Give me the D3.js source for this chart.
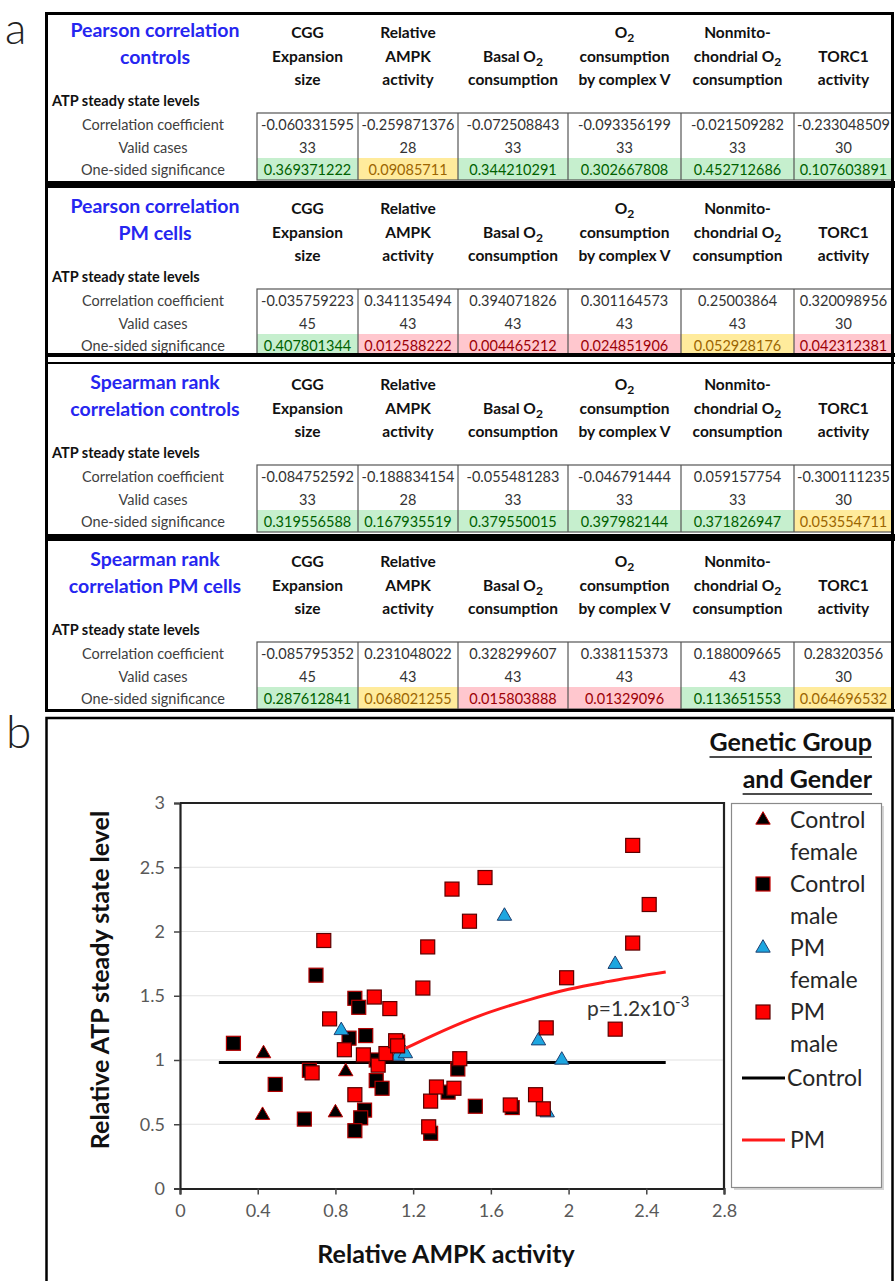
<!DOCTYPE html>
<html lang="en">
<head>
<meta charset="UTF-8">
<title>ATP correlations and AMPK scatter</title>
<script src="https://d3js.org/d3.v7.min.js"></script>
<style>
  body { margin: 0; background: #fff; }
  svg { display: block; font-family: Lato, "Open Sans", sans-serif; }
</style>
</head>
<body>
<script>
// ---------- table data (panel a) ----------
const tableTitles = [
  ["Pearson correlation", "controls"],
  ["Pearson correlation", "PM cells"],
  ["Spearman rank", "correlation controls"],
  ["Spearman rank", "correlation PM cells"]
];
// header lines; second value is the line slot (0..2) of the first line
const columnHeaders = [
  [["CGG", "Expansion", "size"], 0],
  [["Relative", "AMPK", "activity"], 0],
  [["Basal O_2", "consumption"], 1],
  [["O_2", "consumption", "by complex V"], 0],
  [["Nonmito-", "chondrial O_2", "consumption"], 0],
  [["TORC1", "activity"], 1]
];
const rowLabels = ["Correlation coefficient", "Valid cases", "One-sided significance"];

const coefPearsonControls = ["-0.060331595", "-0.259871376", "-0.072508843", "-0.093356199", "-0.021509282", "-0.233048509"];
const nPearsonControls = [33, 28, 33, 33, 33, 30];
const sigPearsonControls = ["0.369371222", "0.09085711", "0.344210291", "0.302667808", "0.452712686", "0.107603891"];

const coefPearsonPM = ["-0.035759223", "0.341135494", "0.394071826", "0.301164573", "0.25003864", "0.320098956"];
const nPearsonPM = [45, 43, 43, 43, 43, 30];
const sigPearsonPM = ["0.407801344", "0.012588222", "0.004465212", "0.024851906", "0.052928176", "0.042312381"];

const coefSpearmanControls = ["-0.084752592", "-0.188834154", "-0.055481283", "-0.046791444", "0.059157754", "-0.300111235"];
const nSpearmanControls = [33, 28, 33, 33, 33, 30];
const sigSpearmanControls = ["0.319556588", "0.167935519", "0.379550015", "0.397982144", "0.371826947", "0.053554711"];

const coefSpearmanPM = ["-0.085795352", "0.231048022", "0.328299607", "0.338115373", "0.188009665", "0.28320356"];
const nSpearmanPM = [45, 43, 43, 43, 43, 30];
const sigSpearmanPM = ["0.287612841", "0.068021255", "0.015803888", "0.01329096", "0.113651553", "0.064696532"];

// ---------- scatter data (panel b) ----------
const controlFemale = [[0.43, 1.05], [0.425, 0.57], [0.80, 0.59], [0.853, 0.91]];
const controlMale = [
  [0.275, 1.13], [0.49, 0.81], [0.64, 0.54], [0.70, 1.66], [0.666, 0.92],
  [0.90, 1.48], [0.92, 1.41], [0.87, 1.17], [0.956, 1.19], [0.95, 0.61],
  [0.93, 0.55], [0.90, 0.45], [1.01, 0.84], [1.04, 0.78], [1.01, 1.00],
  [1.38, 0.75], [1.43, 0.93], [1.52, 0.64], [1.71, 0.63], [1.29, 0.43],
  [1.12, 1.14]
];
const pmFemale = [
  [0.83, 1.23], [1.12, 1.03], [1.16, 1.05], [1.845, 1.15], [1.965, 1.0],
  [1.89, 0.59], [1.67, 2.12], [2.24, 1.745]
];
const pmMale = [
  [0.77, 1.32], [0.68, 0.90], [0.846, 1.08], [0.90, 0.73], [1.0, 1.49],
  [1.08, 1.40], [0.944, 1.04], [1.02, 0.96], [1.06, 1.05], [1.11, 1.15],
  [1.12, 1.11], [1.25, 1.56], [1.29, 0.68], [1.28, 0.48], [1.32, 0.79],
  [1.41, 0.78], [1.44, 1.01], [1.70, 0.65], [1.83, 0.73], [1.87, 0.62],
  [1.885, 1.25], [1.99, 1.64], [0.74, 1.93], [1.275, 1.88], [1.40, 2.33],
  [1.49, 2.08], [1.57, 2.42], [2.33, 2.67], [2.415, 2.21], [2.33, 1.91],
  [2.24, 1.24]
];
const controlFit = [[0.2, 0.98], [2.5, 0.98]];
const pmFit = [[1.16, 1.09], [1.3, 1.19], [1.5, 1.32], [1.8, 1.47], [2.0, 1.55], [2.2, 1.61], [2.5, 1.685]];
const xTicks = [0, 0.4, 0.8, 1.2, 1.6, 2, 2.4, 2.8];
const yTicks = [0, 0.5, 1, 1.5, 2, 2.5, 3];

const W = 896, H = 1281;
const svg = d3.select("body").append("svg").attr("width", W).attr("height", H);

// write text with "O_2" subscripts
function richText(sel, str, size) {
  const parts = str.split("_2");
  let shift = 0;
  parts.forEach((p, i) => {
    if (p) {
      const ts = sel.append("tspan").text(p);
      if (shift) { ts.attr("dy", -shift); shift = 0; }
    }
    if (i < parts.length - 1) {
      sel.append("tspan").attr("dy", 4).attr("font-size", size * 0.78).text("2");
      shift = 4;
    }
  });
}

// ---------- panel a ----------
const colEdges = [257, 358, 458, 568, 681, 794, 893];
const colCenter = i => (colEdges[i] + colEdges[i + 1]) / 2;
const tableTops = [12, 188, 364, 541];
const tableData = [
  [coefPearsonControls, nPearsonControls, sigPearsonControls],
  [coefPearsonPM, nPearsonPM, sigPearsonPM],
  [coefSpearmanControls, nSpearmanControls, sigSpearmanControls],
  [coefSpearmanPM, nSpearmanPM, sigSpearmanPM]
];
const sigStyle = p => p < 0.05 ? ["#FFC7CE", "#9C0006"] : p < 0.1 ? ["#FFEB9C", "#9C6500"] : ["#C6EFCE", "#006100"];

svg.append("text").attr("x", 5).attr("y", 44).attr("font-size", 44).attr("font-weight", 300)
  .attr("fill", "#222").text("a");

tableTops.forEach((top, t) => {
  const g = svg.append("g").attr("transform", `translate(0,${top})`);
  // title
  tableTitles[t].forEach((line, i) => {
    g.append("text").attr("x", 155).attr("y", 18 + i * 27).attr("dy", "0.35em")
      .attr("text-anchor", "middle").attr("font-size", 19.5).attr("font-weight", 700)
      .attr("fill", "#2626F0").text(line);
  });
  // column headers
  columnHeaders.forEach(([lines, start], c) => {
    lines.forEach((line, i) => {
      const tx = g.append("text").attr("x", colCenter(c)).attr("y", 21 + (start + i) * 23.5)
        .attr("dy", "0.35em").attr("text-anchor", "middle").attr("font-size", 15.5)
        .attr("font-weight", 700).attr("fill", "#111");
      richText(tx, line, 15.5);
    });
  });
  g.append("text").attr("x", 52).attr("y", 89).attr("dy", "0.35em").attr("font-size", 14.5)
    .attr("font-weight", 700).attr("fill", "#111").text("ATP steady state levels");
  rowLabels.forEach((r, i) => {
    g.append("text").attr("x", 153).attr("y", 113 + i * 22.5).attr("dy", "0.35em")
      .attr("text-anchor", "middle").attr("font-size", 14.5).attr("fill", "#404040").text(r);
  });
  const [coef, n, sig] = tableData[t];
  // significance shading
  sig.forEach((s, c) => {
    const [bg, fg] = sigStyle(+s);
    g.append("rect").attr("x", colEdges[c]).attr("y", 146)
      .attr("width", colEdges[c + 1] - colEdges[c]).attr("height", 22).attr("fill", bg);
    g.append("text").attr("x", colCenter(c)).attr("y", 158).attr("dy", "0.35em")
      .attr("text-anchor", "middle").attr("font-size", 14.5).attr("fill", fg).text(s);
  });
  coef.forEach((v, c) => {
    g.append("text").attr("x", colCenter(c)).attr("y", 113).attr("dy", "0.35em")
      .attr("text-anchor", "middle").attr("font-size", 14.5).attr("fill", "#333").text(v);
    g.append("text").attr("x", colCenter(c)).attr("y", 135.5).attr("dy", "0.35em")
      .attr("text-anchor", "middle").attr("font-size", 14.5).attr("fill", "#333").text(n[c]);
  });
  // data box and dividers
  g.append("rect").attr("x", colEdges[0]).attr("y", 101)
    .attr("width", colEdges[6] - colEdges[0]).attr("height", 67)
    .attr("fill", "none").attr("stroke", "#555").attr("stroke-width", 1.2);
  colEdges.slice(1, 6).forEach(x => {
    g.append("line").attr("x1", x).attr("x2", x).attr("y1", 101).attr("y2", 168)
      .attr("stroke", "#555").attr("stroke-width", 1.2);
  });
});

// separators between tables
[[181, 7], [353, 4], [362, 2], [534, 7], [709, 3]].forEach(([y, h]) => {
  svg.append("rect").attr("x", 45).attr("y", y).attr("width", 850).attr("height", h).attr("fill", "#000");
});
svg.append("rect").attr("x", 46.5).attr("y", 13.5).attr("width", 846).attr("height", 697)
  .attr("fill", "none").attr("stroke", "#000").attr("stroke-width", 3);

// ---------- panel b ----------
svg.append("text").attr("x", 6).attr("y", 748).attr("font-size", 46).attr("font-weight", 300)
  .attr("fill", "#222").text("b");
svg.append("rect").attr("x", 46.5).attr("y", 718).attr("width", 846).attr("height", 600)
  .attr("fill", "none").attr("stroke", "#000").attr("stroke-width", 2.5);

const x = d3.scaleLinear().domain([0, 2.8]).range([180, 724]);
const y = d3.scaleLinear().domain([0, 3]).range([1188.5, 803]);

// gridlines
svg.append("g").selectAll("line").data(yTicks.slice(1, -1)).join("line")
  .attr("x1", x(0)).attr("x2", x(2.8)).attr("y1", d => y(d)).attr("y2", d => y(d))
  .attr("stroke", "#e2e2e2").attr("stroke-width", 1.2);

// plot frame (top and right)
svg.append("path").attr("d", `M${x(0)},${y(3)}H${x(2.8)}V${y(0)}`)
  .attr("fill", "none").attr("stroke", "#222").attr("stroke-width", 2.2);

const xAxis = svg.append("g").attr("transform", `translate(0,${y(0)})`)
  .call(d3.axisBottom(x).tickValues(xTicks).tickSize(6).tickPadding(10).tickFormat(d3.format("")));
const yAxis = svg.append("g").attr("transform", `translate(${x(0)},0)`)
  .call(d3.axisLeft(y).tickValues(yTicks).tickSize(6).tickPadding(9).tickFormat(d3.format("")));
[xAxis, yAxis].forEach(a => {
  a.select(".domain").attr("stroke", "#222").attr("stroke-width", 2.2);
  a.selectAll(".tick line").attr("stroke", "#444").attr("stroke-width", 1.5);
  a.selectAll(".tick text").attr("font-family", "Lato, sans-serif").attr("font-size", 18).attr("fill", "#595959");
});

// fit lines
const line = d3.line().x(d => x(d[0])).y(d => y(d[1])).curve(d3.curveMonotoneX);
svg.append("path").datum(controlFit).attr("d", line).attr("fill", "none")
  .attr("stroke", "#000").attr("stroke-width", 3);

// markers
const tri = d3.symbol().type(d3.symbolTriangle).size(90);
function drawTriangles(data, fill, stroke) {
  svg.append("g").selectAll("path").data(data).join("path")
    .attr("d", tri).attr("transform", d => `translate(${x(d[0])},${y(d[1])})`)
    .attr("fill", fill).attr("stroke", stroke).attr("stroke-width", 1);
}
function drawSquares(data, fill, stroke) {
  svg.append("g").selectAll("rect").data(data).join("rect")
    .attr("x", d => x(d[0]) - 7).attr("y", d => y(d[1]) - 7)
    .attr("width", 14).attr("height", 14)
    .attr("fill", fill).attr("stroke", stroke).attr("stroke-width", 1.2);
}
drawTriangles(controlFemale, "#000", "#C00000");
drawSquares(controlMale, "#000", "#B00000");
drawTriangles(pmFemale, "#1DA6E0", "#1F3F6F");
drawSquares(pmMale, "#FF0000", "#5A0000");

svg.append("path").datum(pmFit).attr("d", line).attr("fill", "none")
  .attr("stroke", "#FF1A1A").attr("stroke-width", 3);

const pText = svg.append("text").attr("x", 587).attr("y", 1016).attr("font-size", 21).attr("fill", "#333");
pText.append("tspan").text("p=1.2x10");
pText.append("tspan").attr("dy", -9).attr("font-size", 15).text("-3");

// axis titles
svg.append("text").attr("x", 446).attr("y", 1263).attr("text-anchor", "middle")
  .attr("font-size", 25).attr("font-weight", 700).attr("fill", "#111").text("Relative AMPK activity");
svg.append("text").attr("transform", "translate(100,980) rotate(-90)").attr("dy", "0.35em")
  .attr("text-anchor", "middle").attr("font-size", 25).attr("font-weight", 700).attr("fill", "#111")
  .text("Relative ATP steady state level");

// legend
["Genetic Group", "and Gender"].forEach((s, i) => {
  const tx = svg.append("text").attr("x", 872).attr("y", 751 + i * 37).attr("text-anchor", "end")
    .attr("font-size", 25).attr("font-weight", 700).attr("fill", "#111").text(s);
  const len = tx.node().getComputedTextLength();
  svg.append("line").attr("x1", 872 - len).attr("x2", 872).attr("y1", 757 + i * 37).attr("y2", 757 + i * 37)
    .attr("stroke", "#111").attr("stroke-width", 1.6);
});
svg.append("rect").attr("x", 734).attr("y", 806).attr("width", 150).attr("height", 384).attr("fill", "#d5d5d5");
svg.append("rect").attr("x", 731.5).attr("y", 803.5).attr("width", 150).attr("height", 384)
  .attr("fill", "#fff").attr("stroke", "#8a8a8a").attr("stroke-width", 1.2);

const legendItems = [
  { lines: ["Control", "female"], y: 820, mark: "tri", fill: "#000", stroke: "#C00000" },
  { lines: ["Control", "male"], y: 884, mark: "sq", fill: "#000", stroke: "#C00000" },
  { lines: ["PM", "female"], y: 948, mark: "tri", fill: "#1DA6E0", stroke: "#1F3F6F" },
  { lines: ["PM", "male"], y: 1012, mark: "sq", fill: "#FF0000", stroke: "#5A0000" },
  { lines: ["Control"], y: 1078, mark: "line", stroke: "#000" },
  { lines: ["PM"], y: 1140, mark: "line", stroke: "#FF1A1A" }
];
legendItems.forEach(it => {
  if (it.mark === "tri") {
    svg.append("path").attr("d", tri).attr("transform", `translate(763,${it.y})`)
      .attr("fill", it.fill).attr("stroke", it.stroke);
  } else if (it.mark === "sq") {
    svg.append("rect").attr("x", 756).attr("y", it.y - 7).attr("width", 14).attr("height", 14)
      .attr("fill", it.fill).attr("stroke", it.stroke).attr("stroke-width", 1.2);
  } else {
    svg.append("line").attr("x1", 742).attr("x2", 785).attr("y1", it.y).attr("y2", it.y)
      .attr("stroke", it.stroke).attr("stroke-width", 3);
  }
  it.lines.forEach((s, i) => {
    svg.append("text").attr("x", it.mark === "line" && s === "Control" ? 787 : 790)
      .attr("y", it.y + i * 32).attr("dy", "0.35em").attr("font-size", 23)
      .attr("fill", "#262626").text(s);
  });
});
</script>
</body>
</html>
